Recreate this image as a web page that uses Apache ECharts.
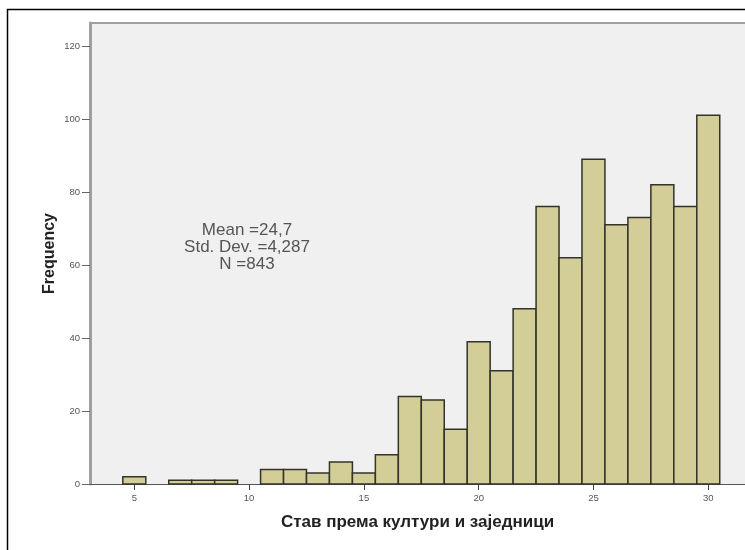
<!DOCTYPE html>
<html><head><meta charset="utf-8">
<script src="https://cdn.jsdelivr.net/npm/echarts@6/dist/echarts.min.js"></script>
<style>html,body{margin:0;padding:0;background:#fff}#c{width:745px;height:550px}</style>
</head><body><div id="c"></div>
<script>
const binCenters = [5,6,7,8,9,10,11,12,13,14,15,16,17,18,19,20,21,22,23,24,25,26,27,28,29,30];
const frequencies = [2,0,1,1,1,0,4,4,3,6,3,8,24,23,15,39,31,48,76,62,89,71,73,82,76,101];
const xTicks = [5,10,15,20,25,30];
const yTicks = [0,20,40,60,80,100,120];
const statsLines = ['Mean =24,7','Std. Dev. =4,287','N =843'];
const xTitle = 'Став према култури и заједници';
const yTitle = 'Frequency';

const chart = echarts.init(document.getElementById('c'), null, {renderer:'canvas'});
const font = '"Liberation Sans", Arial, sans-serif';
const data = binCenters.map((c,i)=>[c, frequencies[i]]);

chart.setOption({
  animation:false,
  backgroundColor:'#fff',
  grid:{left:90, top:23, right:0, bottom:66, show:true, backgroundColor:'#f0f0f0', borderWidth:0},
  xAxis:[{
    type:'value', min:3.07, max:31.6, position:'bottom',
    splitLine:{show:false},
    axisLine:{show:true, onZero:false, lineStyle:{color:'#555', width:1}},
    axisTick:{show:true, customValues:xTicks, length:6, lineStyle:{color:'#444'}},
    axisLabel:{customValues:xTicks, color:'#555', fontSize:9.5, fontFamily:font, margin:9},
    name:xTitle, nameLocation:'middle', nameGap:30, nameMoveOverlap:false,
    nameTextStyle:{fontSize:17, fontWeight:'bold', color:'#222', fontFamily:font}
  },{
    type:'value', min:3.07, max:31.6, position:'top',
    splitLine:{show:false},
    axisLine:{show:true, onZero:false, lineStyle:{color:'#a0a0a0', width:2}},
    axisTick:{show:false}, axisLabel:{show:false}
  }],
  yAxis:{
    type:'value', min:0, max:126.3,
    splitLine:{show:false},
    axisLine:{show:true, lineStyle:{color:'#a0a0a0', width:3}},
    axisTick:{show:true, customValues:yTicks, length:8, lineStyle:{color:'#666'}},
    axisLabel:{customValues:yTicks, color:'#555', fontSize:9.5, fontFamily:font, margin:10},
    name:yTitle, nameLocation:'middle', nameGap:32, nameMoveOverlap:false,
    nameTextStyle:{fontSize:16, fontWeight:'bold', color:'#222', fontFamily:font}
  },
  series:[{
    type:'custom',
    xAxisIndex:0,
    data:data,
    renderItem:function(params, api){
      const x = api.value(0), y = api.value(1);
      if (!y) return null;
      const p0 = api.coord([x-0.5, y]);
      const p1 = api.coord([x+0.5, 0]);
      return {type:'rect', shape:{x:p0[0], y:p0[1], width:p1[0]-p0[0], height:p1[1]-p0[1]},
        style:{fill:'#d3ce97', stroke:'#333328', lineWidth:1.5}};
    }
  }],
  graphic:[
    {type:'rect', shape:{x:7.5, y:9.5, width:900, height:700}, style:{fill:null, stroke:'#000', lineWidth:1.5}, silent:true},
    {type:'text', x:247, y:247, style:{text:statsLines.join('\n'), fill:'#555', font:'17px ' + font, align:'center', verticalAlign:'middle', lineHeight:17}}
  ]
});
</script>
</body></html>
